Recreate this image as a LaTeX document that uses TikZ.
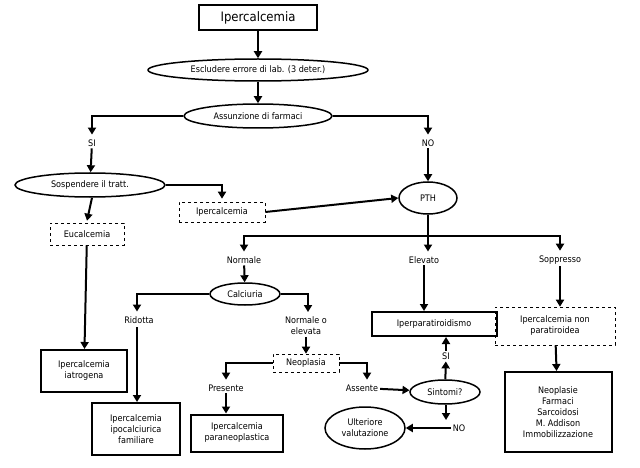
\documentclass[tikz,border=0pt]{standalone}
\usepackage{fontspec}
\setmainfont{DejaVu Sans Condensed}
\usetikzlibrary{arrows.meta,shapes.geometric}
\tikzset{every path/.style={black, line width=2pt},
  freccia/.style={-{Triangle[length=7pt,width=8pt]}},
  every node/.style={font=\fontsize{9}{11}\selectfont, inner sep=1pt, align=center},
  box/.style={draw, line width=2pt, inner sep=3pt},
  tratt/.style={draw, dashed, line width=0.6pt, inner sep=3pt},
  ell/.style={draw, ellipse, line width=1.5pt, inner sep=1pt}}

\begin{document}
\begin{tikzpicture}[x=1pt,y=-1pt]
   \useasboundingbox (0,0) rectangle (640,468);
   % nodi
   \node[box, minimum width=118pt, minimum height=25pt, font=\fontsize{13}{15}\selectfont] (ip) at (258,18) {Ipercalcemia};
   \node[ell, minimum width=220pt, minimum height=22pt] (esc) at (258,70) {Escludere errore di lab. (3 deter.)};
   \node[ell, minimum width=148pt, minimum height=24pt] (ass) at (258,116) {Assunzione di farmaci};
   \node (si) at (92,143) {SI};
   \node (no) at (428,143) {NO};
   \node[ell, minimum width=150pt, minimum height=24pt] (sosp) at (90,185) {Sospendere il tratt.};
   \node[ell, minimum width=58pt, minimum height=32pt] (pth) at (428,198) {PTH};
   \node[tratt, minimum width=86pt, minimum height=20pt] (ip2) at (222,212) {Ipercalcemia};
   \node[tratt, minimum width=74pt, minimum height=22pt] (euc) at (87,234) {Eucalcemia};
   \node[box, minimum width=86pt, minimum height=42pt] (iat) at (84,371) {Ipercalcemia\\iatrogena};
   \node (norm) at (244,260) {Normale};
   \node (elev) at (424,260) {Elevato};
   \node (sopp) at (560,260) {Soppresso};
   \node[ell, minimum width=70pt, minimum height=22pt] (calc) at (245,294) {Calciuria};
   \node (rid) at (139,320) {Ridotta};
   \node (nel) at (306,326) {Normale o\\elevata};
   \node[box, minimum width=88pt, minimum height=52pt] (ipo) at (136,429) {Ipercalcemia\\ipocalciurica\\familiare};
   \node[tratt, minimum width=66pt, minimum height=18pt] (neo) at (306,363) {Neoplasia};
   \node (pres) at (226,388) {Presente};
   \node (asse) at (362,388) {Assente};
   \node[box, minimum width=92pt, minimum height=37pt] (para) at (237,433) {Ipercalcemia\\paraneoplastica};
   \node[ell, minimum width=70pt, minimum height=24pt] (sint) at (445,392) {Sintomi?};
   \node[box, minimum width=125pt, minimum height=24pt] (iper) at (434,324) {Iperparatiroidismo};
   \node (si2) at (446,356) {SI};
   \node (no2) at (459,428) {NO};
   \node[ell, minimum width=80pt, minimum height=42pt, inner sep=0pt] (ult) at (365,428) {Ulteriore\\valutazione};
   \node[tratt, minimum width=120pt, minimum height=38pt] (nonp) at (555,326) {Ipercalcemia non\\paratiroidea};
   \node[box, minimum width=107pt, minimum height=80pt] (lista) at (558,412) {Neoplasie\\Farmaci\\Sarcoidosi\\M. Addison\\Immobilizzazione};
   \coordinate (ramo) at (428,236);
   \coordinate (rid1) at (137,327);
   \coordinate (nos) at (446,420);
   % connettori
   \draw[freccia] (ip) -- (esc);
   \draw[freccia] (esc) -- (ass);
   \draw[freccia] (ass.west) -| ([yshift=3pt]si.north);
   \draw[freccia] (ass.east) -| ([yshift=3pt]no.north);
   \draw[freccia] (si) -- (sosp);
   \draw[freccia] (no) -- (pth);
   \draw[freccia] (sosp.east) -| ([yshift=3pt]ip2.north);
   \draw[freccia] (ip2.east) -- (pth.west);
   \draw[freccia] ([xshift=2pt]sosp.south) -- ([yshift=2pt]euc.north);
   \draw[freccia] (euc) -- (iat);
   \draw (pth) -- (ramo);
   \draw[freccia] (ramo) -| ([yshift=3pt]norm.north);
   \draw[freccia] (ramo) -| ([yshift=3pt]sopp.north);
   \draw[freccia] (ramo) -- ([yshift=3pt]elev.north -| ramo);
   \draw[freccia] (norm) -- (calc);
   \draw[freccia] (calc.west) -| ([xshift=-2pt,yshift=3pt]rid.north);
   \draw[freccia] (calc.east) -| ([xshift=2pt,yshift=3pt]nel.north);
   \draw[freccia] (rid1) -- (rid1 |- ipo.north);
   \draw[freccia] (nel) -- (neo);
   \draw[freccia] (neo.west) -| ([yshift=3pt]pres.north);
   \draw[freccia] (neo.east) -| ([xshift=5pt,yshift=3pt]asse.north);
   \draw[freccia] (pres) -- (pres |- para.north);
   \draw[freccia] (asse) -- (sint);
   \draw[freccia] (elev) -- (elev |- iper.north);
   \draw[freccia] (sint) -- (si2);
   \draw[freccia] (si2) -- (si2 |- iper.south);
   \draw[freccia] (sint.south -| si2) -- (nos);
   \draw[freccia] (no2) -- (ult);
   \draw[freccia] (sopp) -- (sopp |- nonp.north);
   \draw[freccia] (nonp) -- (lista);
\end{tikzpicture}
\end{document}
